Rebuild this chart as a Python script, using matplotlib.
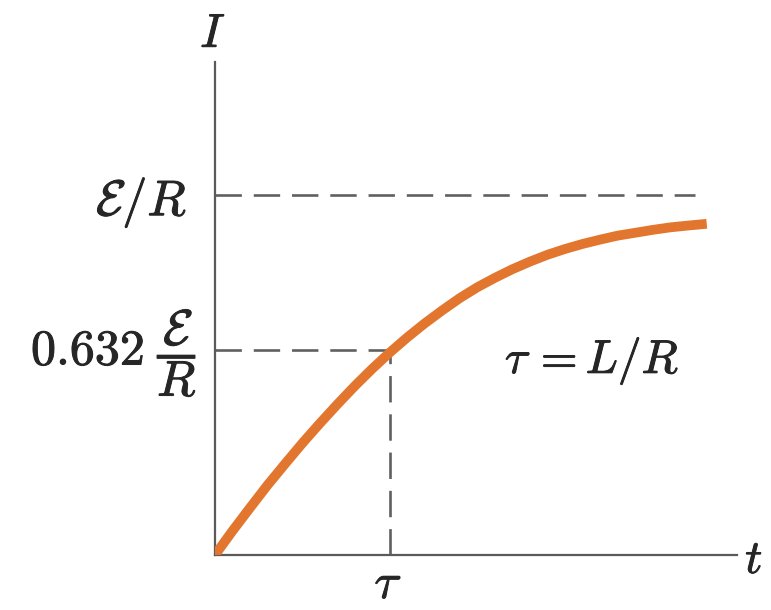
import matplotlib
matplotlib.use("Agg")
import matplotlib.pyplot as plt
import matplotlib.patheffects as pe

# Current growth in an RL circuit; t in units of tau, I in units of E/R
t_vals = [0.0, 0.1, 0.2, 0.3, 0.4, 0.5, 0.6, 0.7, 0.8, 0.9, 1.0,
          1.1, 1.2, 1.3, 1.4, 1.5, 1.6, 1.7, 1.8, 1.9, 2.0,
          2.1, 2.2, 2.3, 2.4, 2.5, 2.6, 2.7, 2.81]
i_vals = [0.0, 0.067, 0.131, 0.194, 0.253, 0.311, 0.366, 0.419, 0.470, 0.518, 0.563,
          0.605, 0.644, 0.680, 0.714, 0.744, 0.770, 0.794, 0.815, 0.834, 0.850,
          0.864, 0.876, 0.887, 0.895, 0.903, 0.910, 0.915, 0.920]

# reference levels marked on the axes
level_full = 1.0        # E/R
level_tau = 0.569       # 0.632 E/R
t_tau = 1.0
t_full_end = 2.74
label_full = r"$\mathcal{E}/R$"
label_tau_level = r"$0.632\;\dfrac{\mathcal{E}}{R}$"
label_tau = r"$\tau$"

plt.rcParams["mathtext.fontset"] = "cm"
plt.rcParams["font.family"] = "serif"

W, H = 771, 610
fig = plt.figure(figsize=(W / 100, H / 100), dpi=100)
left, right, bottom, top = 215, 737, 555, 62
ax = fig.add_axes([left / W, (H - bottom) / H, (right - left) / W, (bottom - top) / H])

ax.set_xlim(0, (right - left) / 175)
ax.set_ylim(0, (bottom - top) / 360)

axis_col = "#5a5a5a"
text_col = "#262626"
for s in ("top", "right"):
    ax.spines[s].set_visible(False)
for s in ("left", "bottom"):
    ax.spines[s].set_color(axis_col)
    ax.spines[s].set_linewidth(1.6)
ax.set_xticks([])
ax.set_yticks([])

dash = dict(color="#606060", lw=1.9, dashes=(10, 4.5), zorder=1)
ax.plot([0, t_full_end], [level_full, level_full], **dash)
ax.plot([0, t_tau], [level_tau, level_tau], **dash)
ax.plot([t_tau, t_tau], [0, level_tau], **dash)

ax.plot(t_vals, i_vals, color="#E2762F", lw=7, solid_capstyle="butt",
        solid_joinstyle="round", zorder=3)

heavy = [pe.withStroke(linewidth=0.7, foreground=text_col)]
txt = dict(color=text_col, clip_on=False, path_effects=heavy)

ax.text(-0.16, 0.944, label_full, fontsize=36, ha="right", va="baseline", **txt)
ax.text(-0.103, 0.528, label_tau_level, fontsize=36, ha="right", va="baseline", **txt)
ax.text(t_tau - 0.01, -0.12, label_tau, fontsize=36, ha="center", va="baseline", **txt)

ax.text(3.03, -0.05, r"$t$", fontsize=34, ha="left", va="baseline", **txt)
ax.text(-0.011, 1.411, r"$I$", fontsize=34, ha="center", va="baseline", **txt)
ax.text(1.657, 0.506, r"$\tau\,{=}L/R$", fontsize=34, ha="left", va="baseline", **txt)

fig.savefig("out.png", dpi=100, facecolor="white")
